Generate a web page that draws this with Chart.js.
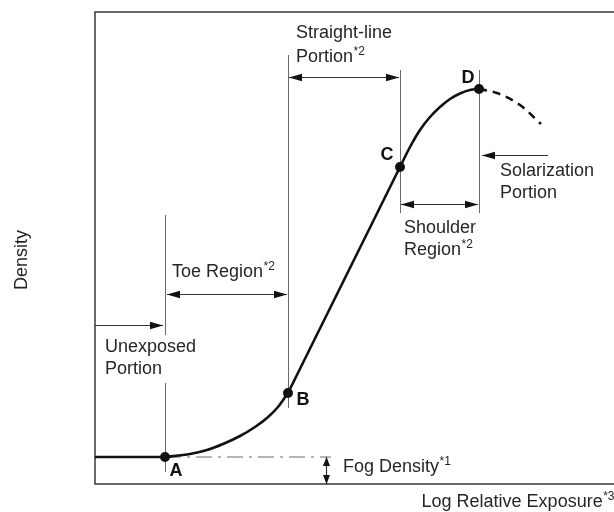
<!DOCTYPE html>
<html><head><meta charset="utf-8">
<script src="https://cdn.jsdelivr.net/npm/chart.js@4"></script>
<style>html,body{margin:0;padding:0;background:#fff}#wrap{width:614px;height:512px}</style>
</head><body><div id="wrap"><canvas id="c"></canvas></div>
<script>
// Characteristic curve (data units: log relative exposure vs density)
const flatX = [0, 0.70];
const flatY = [0.27, 0.27];
const toeX = [0.70, 0.95, 1.12, 1.28, 1.45, 1.60, 1.72, 1.83, 1.93];
const toeY = [0.27, 0.30, 0.34, 0.40, 0.48, 0.57, 0.66, 0.77, 0.91];
const lineX = [1.93, 3.05];
const lineY = [0.91, 3.17];
const shoulderX = [3.05, 3.15, 3.25, 3.35, 3.45, 3.55, 3.65, 3.75, 3.84];
const shoulderY = [3.17, 3.37, 3.54, 3.67, 3.77, 3.85, 3.905, 3.94, 3.95];
const solarX = [3.84, 4.02, 4.25, 4.46];
const solarY = [3.95, 3.91, 3.79, 3.60];
const pointNames = ['A', 'B', 'C', 'D'];
const pointX = [0.70, 1.93, 3.05, 3.84];
const pointY = [0.27, 0.91, 3.17, 3.95];
const fogLevel = 0.27;
const fogX = 2.31;
const xTitle = 'Log Relative Exposure';
const xTitleSup = '*3';
const yTitle = 'Density';

const pts = (xs, ys) => xs.map((x, i) => ({x, y: ys[i]}));

const annot = {
  id: 'annot',
  beforeDatasetsDraw(chart) {
    const {ctx, chartArea: a, scales: {x: sx, y: sy}} = chart;
    const X = v => sx.getPixelForValue(v), Y = v => sy.getPixelForValue(v);
    ctx.save();
    // frame: top, left, bottom
    ctx.strokeStyle = '#3a3a3a'; ctx.lineWidth = 1.5;
    ctx.beginPath();
    ctx.moveTo(614, a.top); ctx.lineTo(a.left, a.top); ctx.lineTo(a.left, a.bottom); ctx.lineTo(614, a.bottom);
    ctx.stroke();
    // guide lines
    ctx.strokeStyle = '#6a6a6a'; ctx.lineWidth = 1;
    const v = (xv, y1, y2) => { const px = Math.round(X(xv)) + 0.5; ctx.beginPath(); ctx.moveTo(px, Y(y1)); ctx.lineTo(px, Y(y2)); ctx.stroke(); };
    v(pointX[0], 2.69, 1.49); v(pointX[0], 1.01, 0.12);
    v(pointX[1], 4.29, 0.76);
    v(pointX[2], 4.14, 2.71);
    v(pointX[3], 4.14, 2.71);
    // fog dash-dot line
    ctx.setLineDash([16, 6, 3, 6]);
    ctx.beginPath(); ctx.moveTo(X(pointX[0]), Y(fogLevel)); ctx.lineTo(X(2.36), Y(fogLevel)); ctx.stroke();
    ctx.setLineDash([]);
    ctx.restore();
  },
  afterDatasetsDraw(chart) {
    const {ctx, chartArea: a, scales: {x: sx, y: sy}} = chart;
    const X = v => sx.getPixelForValue(v), Y = v => sy.getPixelForValue(v);
    ctx.save();
    const head = (x, y, dx, dy) => {
      const L = 13, W = 3.8;
      ctx.beginPath();
      ctx.moveTo(x, y);
      ctx.lineTo(x - dx * L - dy * W, y - dy * L + dx * W);
      ctx.lineTo(x - dx * L + dy * W, y - dy * L - dx * W);
      ctx.closePath(); ctx.fill();
    };
    const harrow = (x1, x2, yv, both) => {
      const p1 = X(x1), p2 = X(x2), py = Math.round(Y(yv)) + 0.5;
      ctx.strokeStyle = '#333'; ctx.fillStyle = '#111'; ctx.lineWidth = 1.2;
      ctx.beginPath(); ctx.moveTo(p1, py); ctx.lineTo(p2, py); ctx.stroke();
      const d = Math.sign(p2 - p1);
      head(p2, py, d, 0);
      if (both) head(p1, py, -d, 0);
    };
    harrow(0, 0.68, 1.59, false);
    harrow(0.72, 1.92, 1.90, true);
    harrow(1.94, 3.04, 4.07, true);
    harrow(3.06, 3.83, 2.80, true);
    harrow(4.53, 3.87, 3.29, false);
    // fog vertical double arrow
    {
      const px = Math.round(X(fogX)) + 0.5, y1 = Y(fogLevel), y2 = Y(0);
      ctx.strokeStyle = '#333'; ctx.fillStyle = '#111'; ctx.lineWidth = 1.2;
      ctx.beginPath(); ctx.moveTo(px, y1); ctx.lineTo(px, y2); ctx.stroke();
      const L = 9, W = 3.5;
      ctx.beginPath(); ctx.moveTo(px, y1); ctx.lineTo(px - W, y1 + L); ctx.lineTo(px + W, y1 + L); ctx.closePath(); ctx.fill();
      ctx.beginPath(); ctx.moveTo(px, y2); ctx.lineTo(px - W, y2 - L); ctx.lineTo(px + W, y2 - L); ctx.closePath(); ctx.fill();
    }
    // texts
    const FONT = '"Liberation Sans", Arial, Helvetica, sans-serif';
    const txt = (s, sup, px, py, align) => {
      ctx.fillStyle = '#262626';
      ctx.font = '18px ' + FONT;
      ctx.textBaseline = 'middle';
      ctx.textAlign = 'left';
      let w = ctx.measureText(s).width;
      ctx.font = '12px ' + FONT;
      let ws = sup ? ctx.measureText(sup).width : 0;
      let left = align === 'right' ? px - w - ws : px;
      ctx.font = '18px ' + FONT;
      ctx.fillText(s, left, py);
      if (sup) { ctx.font = '12px ' + FONT; ctx.fillText(sup, left + w + 0.5, py - 5); }
    };
    const T = (s, sup, xv, yv) => txt(s, sup, X(xv), Y(yv));
    T('Straight-line', '', 2.01, 4.51);
    T('Portion', '*2', 2.01, 4.27);
    T('Toe Region', '*2', 0.77, 2.12);
    T('Unexposed', '', 0.10, 1.37);
    T('Portion', '', 0.10, 1.15);
    T('Shoulder', '', 3.09, 2.56);
    T('Region', '*2', 3.09, 2.34);
    T('Solarization', '', 4.05, 3.13);
    T('Portion', '', 4.05, 2.91);
    T('Fog Density', '*1', 2.48, 0.17);
    // point labels
    ctx.font = 'bold 18px ' + FONT; ctx.fillStyle = '#111'; ctx.textBaseline = 'middle'; ctx.textAlign = 'center';
    const lblOff = [[11, 14], [15, 7], [-13, -12], [-11, -11]];
    pointNames.forEach((n, i) => ctx.fillText(n, X(pointX[i]) + lblOff[i][0], Y(pointY[i]) + lblOff[i][1]));
    // axis titles
    txt(xTitle, xTitleSup, 614, a.bottom + 18, 'right');
    ctx.save();
    ctx.translate(a.left - 73, (a.top + a.bottom) / 2 + 12);
    ctx.rotate(-Math.PI / 2);
    ctx.font = '18px ' + FONT; ctx.fillStyle = '#262626'; ctx.textAlign = 'center'; ctx.textBaseline = 'middle';
    ctx.fillText(yTitle, 0, 0);
    ctx.restore();
    ctx.restore();
  }
};

const solid = {borderColor: '#111', borderWidth: 2.6, pointRadius: 0, fill: false, showLine: true};
new Chart(document.getElementById('c'), {
  type: 'scatter',
  data: {
    datasets: [
      Object.assign({data: pts(flatX, flatY), tension: 0}, solid),
      Object.assign({data: pts(toeX, toeY), cubicInterpolationMode: 'monotone'}, solid),
      Object.assign({data: pts(lineX, lineY), tension: 0}, solid),
      Object.assign({data: pts(shoulderX, shoulderY), cubicInterpolationMode: 'monotone'}, solid),
      Object.assign({data: pts(solarX, solarY), cubicInterpolationMode: 'monotone', borderDash: [8, 6]}, solid),
      {data: pts(pointX, pointY), showLine: false, pointRadius: 5, pointBackgroundColor: '#111', pointBorderWidth: 0}
    ]
  },
  options: {
    responsive: true, maintainAspectRatio: false, animation: false,
    layout: {padding: {left: 95, top: 12, right: 0, bottom: 28}},
    scales: {
      x: {type: 'linear', min: 0, max: 5.14, display: false},
      y: {type: 'linear', min: 0, max: 4.72, display: false}
    },
    plugins: {legend: {display: false}, tooltip: {enabled: false}}
  },
  plugins: [annot]
});
</script>
</body></html>
